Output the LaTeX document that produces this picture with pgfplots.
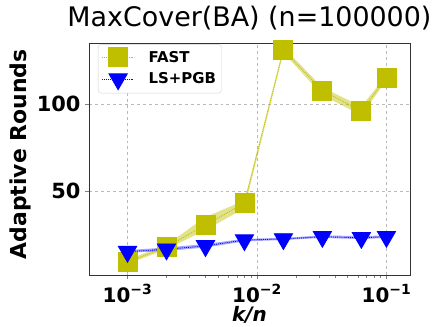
\documentclass[border=0pt]{standalone}
\usepackage{pgfplots}
\pgfplotsset{compat=1.18}
\usepgfplotslibrary{fillbetween}
\usepackage{fontspec}
\setmainfont{DejaVu Sans}
\definecolor{olive}{HTML}{BFBF00}
\begin{document}
\begin{tikzpicture}
\begin{axis}[
  scale only axis, width=321bp, height=232bp,
  xmode=log, xmin=0.000504, xmax=0.152,
  ymin=1.7, ymax=135,
  ytick={50,100},
  xtick={0.001,0.01,0.1},
  xticklabels={10\textsuperscript{−3},10\textsuperscript{−2},10\textsuperscript{−1}},
  grid=major,
  major grid style={dashed, gray!55, line width=0.5pt},
  axis line style={black!80, line width=0.6pt},
  title={MaxCover(BA) (n=100000)},
  title style={font=\fontsize{27}{30}\selectfont, at={(0.5,1)}, anchor=base, yshift=11bp},
  xlabel={\textbf{\textit{k/n}}},
  ylabel={Adaptive Rounds},
  xlabel style={font=\fontsize{20}{22}\selectfont, at={(0.5,0)}, anchor=base, yshift=-46bp},
  ylabel style={font=\fontsize{22}{24}\selectfont\bfseries, at={([xshift=-62bp]axis description cs:0,0.52)}, anchor=base},
  ticklabel style={font=\fontsize{20}{22}\selectfont\bfseries},
  yticklabel style={/pgf/number format/assume math mode=true, font=\fontsize{21}{23}\selectfont\bfseries, xshift=-1bp},
  xticklabel style={yshift=-2bp},
  tick align=outside,
  major tick length=4bp, minor tick length=2.5bp,
  ytick pos=left, xtick pos=bottom,
  legend style={at={(0.028,0.995)}, anchor=north west, font=\fontsize{15}{17}\selectfont\bfseries, draw=gray!35, rounded corners=3pt, row sep=4bp, column sep=12bp, inner sep=3.5pt},
  legend cell align=left,
  legend image code/.code={\draw[#1, mark repeat=2, mark phase=2] plot coordinates {(0bp,0bp)(16bp,0bp)(32bp,0bp)};},
]
\addplot[name path=fu, draw=none, forget plot] coordinates {(0.001,10.5)(0.002,19)(0.004,35)(0.008,44.5)(0.016,132.5)(0.032,109.5)(0.064,98.5)(0.1,116.5)};
\addplot[name path=fl, draw=none, forget plot] coordinates {(0.001,8)(0.002,16.5)(0.004,27.5)(0.008,40)(0.016,129.5)(0.032,105)(0.064,93.5)(0.1,113.5)};
\addplot[olive, opacity=0.45, forget plot] fill between[of=fu and fl];
\addplot[name path=lu, draw=none, forget plot] coordinates {(0.001,16)(0.002,17.5)(0.004,19.5)(0.008,22.5)(0.016,23)(0.032,24.5)(0.064,24)(0.1,24.5)};
\addplot[name path=ll, draw=none, forget plot] coordinates {(0.001,14.5)(0.002,15.5)(0.004,17.5)(0.008,21)(0.016,21.8)(0.032,23)(0.064,22.3)(0.1,23)};
\addplot[blue, opacity=0.35, forget plot] fill between[of=lu and ll];
\addplot[olive, densely dotted, line width=0.9pt, mark=square*, mark size=9.5bp, mark options={solid, fill=olive, draw=olive}]
 coordinates {(0.001,9.2)(0.002,17.8)(0.004,30.5)(0.008,43)(0.016,131)(0.032,107.6)(0.064,96)(0.1,115)};
\addlegendentry{FAST}
\addplot[blue, densely dotted, line width=0.9pt, mark=triangle*, mark size=10.5bp, mark options={solid, rotate=180, fill=blue, draw=blue}]
 coordinates {(0.001,15.1)(0.002,16.5)(0.004,18.4)(0.008,21.8)(0.016,22.4)(0.032,23.7)(0.064,23.1)(0.1,23.7)};
\addlegendentry{LS+PGB}
\end{axis}
\pgfresetboundingbox
\useasboundingbox (current axis.south west) ++(-89bp,-52bp) rectangle ++(434bp,327bp);
\end{tikzpicture}
\end{document}
